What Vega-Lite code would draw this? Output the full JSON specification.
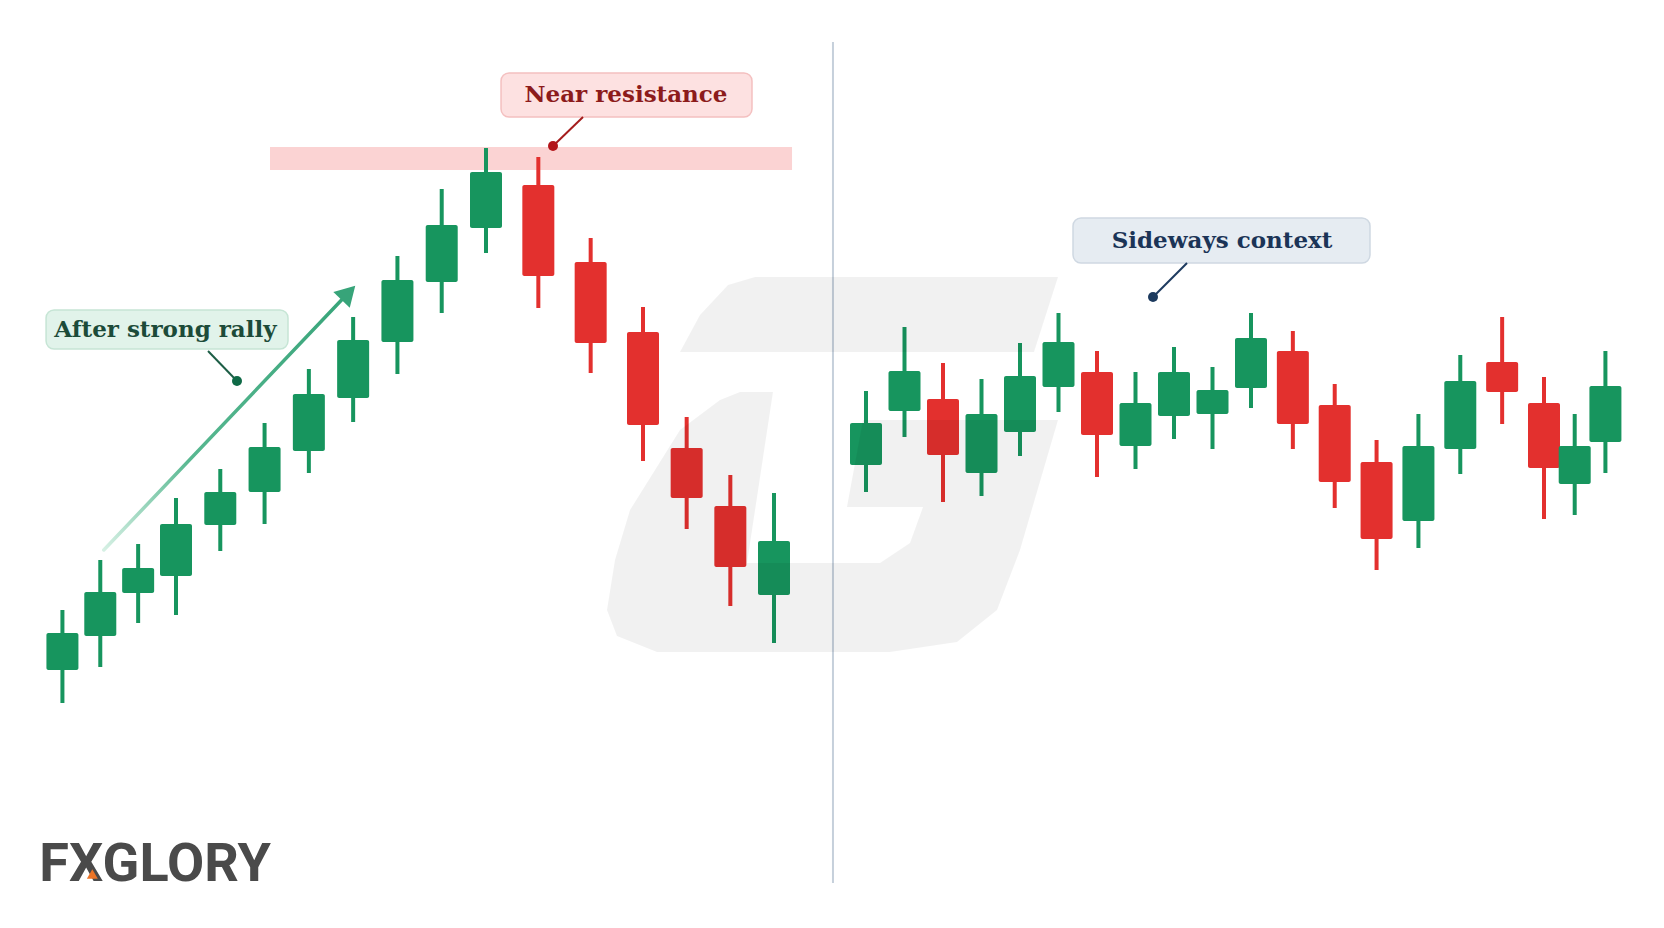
{
  "$schema": "https://vega.github.io/schema/vega-lite/v6.json",
  "width": 1664,
  "height": 928,
  "autosize": {"type": "fit", "contains": "padding"},
  "padding": 0,
  "background": "#ffffff",
  "config": {"view": {"stroke": null}},
  "datasets": {
    "candles": [
      {"t": 1, "o": 64.5, "h": 79.5, "l": 56.25, "c": 73.75},
      {"t": 2, "o": 73, "h": 92, "l": 65.25, "c": 84},
      {"t": 3, "o": 83.75, "h": 96, "l": 76.25, "c": 90},
      {"t": 4, "o": 88, "h": 107.5, "l": 78.25, "c": 101},
      {"t": 5, "o": 100.75, "h": 114.75, "l": 94.25, "c": 109},
      {"t": 6, "o": 109, "h": 126.25, "l": 101, "c": 120.25},
      {"t": 7, "o": 119.25, "h": 139.75, "l": 113.75, "c": 133.5},
      {"t": 8, "o": 132.5, "h": 152.75, "l": 126.5, "c": 147},
      {"t": 9, "o": 146.5, "h": 168, "l": 138.5, "c": 162},
      {"t": 10, "o": 161.5, "h": 184.75, "l": 153.75, "c": 175.75},
      {"t": 11, "o": 175, "h": 195, "l": 168.75, "c": 189},
      {"t": 12, "o": 185.75, "h": 192.75, "l": 155, "c": 163},
      {"t": 13, "o": 166.5, "h": 172.5, "l": 138.75, "c": 146.25},
      {"t": 14, "o": 149, "h": 155.25, "l": 116.75, "c": 125.75},
      {"t": 15, "o": 120, "h": 127.75, "l": 99.75, "c": 107.5},
      {"t": 16, "o": 105.5, "h": 113.25, "l": 80.5, "c": 90.25},
      {"t": 17, "o": 83.25, "h": 108.75, "l": 71.25, "c": 96.75},
      {"t": 18, "o": 115.75, "h": 134.25, "l": 109, "c": 126.25},
      {"t": 19, "o": 129.25, "h": 150.25, "l": 122.75, "c": 139.25},
      {"t": 20, "o": 132.25, "h": 141.25, "l": 106.5, "c": 118.25},
      {"t": 21, "o": 113.75, "h": 137.25, "l": 108, "c": 128.5},
      {"t": 22, "o": 124, "h": 146.25, "l": 118, "c": 138},
      {"t": 23, "o": 135.25, "h": 153.75, "l": 129, "c": 146.5},
      {"t": 24, "o": 139, "h": 144.25, "l": 112.75, "c": 123.25},
      {"t": 25, "o": 120.5, "h": 139, "l": 114.75, "c": 131.25},
      {"t": 26, "o": 128, "h": 145.25, "l": 122.25, "c": 139},
      {"t": 27, "o": 128.5, "h": 140.25, "l": 119.75, "c": 134.5},
      {"t": 28, "o": 135, "h": 153.75, "l": 130, "c": 147.5},
      {"t": 29, "o": 144.25, "h": 149.25, "l": 119.75, "c": 126},
      {"t": 30, "o": 130.75, "h": 136, "l": 105, "c": 111.5},
      {"t": 31, "o": 116.5, "h": 122, "l": 89.5, "c": 97.25},
      {"t": 32, "o": 101.75, "h": 128.5, "l": 95, "c": 120.5},
      {"t": 33, "o": 119.75, "h": 143.25, "l": 113.5, "c": 136.75},
      {"t": 34, "o": 141.5, "h": 152.75, "l": 126, "c": 134},
      {"t": 35, "o": 131.25, "h": 137.75, "l": 102.25, "c": 115},
      {"t": 36, "o": 111, "h": 128.5, "l": 103.25, "c": 120.5},
      {"t": 37, "o": 121.5, "h": 144.25, "l": 113.75, "c": 135.5}
    ],
    "band": [{"t0": 6.123, "t1": 17.196, "p0": 189.5, "p1": 195.25}],
    "divider": [{"t": 17.641, "p0": 11.25, "p1": 221.5}],
    "arrow": [
      {"i": 0, "t": 2.093, "p": 94.5},
      {"i": 1, "t": 7.893, "p": 158.8}
    ],
    "arrowhead": [{"t": 7.893, "p": 158.8}],
    "notes": [
      {"kind": "rally", "text": "After strong rally", "t0": 0.568, "t1": 6.529, "p0": 144.75, "p1": 154.5, "tx": 3.72, "px": 149.5, "ta": 4.723, "pa": 144.25, "tb": 5.377, "pb": 136.75},
      {"kind": "resistance", "text": "Near resistance", "t0": 11.287, "t1": 16.496, "p0": 202.75, "p1": 213.75, "tx": 13.675, "px": 208.25, "ta": 12.854, "pa": 202.75, "tb": 12.28, "pb": 195.5},
      {"kind": "sideways", "text": "Sideways context", "t0": 23.377, "t1": 30.843, "p0": 166.25, "p1": 177.5, "tx": 27.247, "px": 171.75, "ta": 26.338, "pa": 166.25, "tb": 25.455, "pb": 157.75}
    ],
    "watermark": [
      {"part": "top", "i": 0, "t": 14.847, "p": 144},
      {"part": "top", "i": 1, "t": 15.305, "p": 153.25},
      {"part": "top", "i": 2, "t": 15.947, "p": 160.75},
      {"part": "top", "i": 3, "t": 16.565, "p": 162.75},
      {"part": "top", "i": 4, "t": 22.987, "p": 162.75},
      {"part": "top", "i": 5, "t": 22.364, "p": 144},
      {"part": "low", "i": 0, "t": 16.221, "p": 134},
      {"part": "low", "i": 1, "t": 16.977, "p": 134},
      {"part": "low", "i": 2, "t": 16.382, "p": 91.25},
      {"part": "low", "i": 3, "t": 18.364, "p": 91.25},
      {"part": "low", "i": 4, "t": 19.143, "p": 96.25},
      {"part": "low", "i": 5, "t": 19.481, "p": 105.25},
      {"part": "low", "i": 6, "t": 17.793, "p": 105.25},
      {"part": "low", "i": 7, "t": 17.967, "p": 127},
      {"part": "low", "i": 8, "t": 22.987, "p": 127},
      {"part": "low", "i": 9, "t": 22.0, "p": 94.5},
      {"part": "low", "i": 10, "t": 21.403, "p": 79.5},
      {"part": "low", "i": 11, "t": 20.364, "p": 71.5},
      {"part": "low", "i": 12, "t": 18.623, "p": 69},
      {"part": "low", "i": 13, "t": 14.321, "p": 69},
      {"part": "low", "i": 14, "t": 13.503, "p": 73},
      {"part": "low", "i": 15, "t": 13.312, "p": 79.5},
      {"part": "low", "i": 16, "t": 13.465, "p": 92},
      {"part": "low", "i": 17, "t": 13.752, "p": 104.5},
      {"part": "low", "i": 18, "t": 14.847, "p": 124.5},
      {"part": "low", "i": 19, "t": 15.763, "p": 132}
    ],
    "logo": [{"t": 0.39, "p": 11.75, "text": "FXGLORY"}],
    "accent": [{"t": 1.79, "p": 13.5}]
  },
  "layer": [
    {
      "data": {"name": "band"},
      "mark": {"type": "rect", "fill": "#fbd3d3"},
      "encoding": {
        "x": {"field": "t0", "type": "quantitative", "axis": null, "scale": {"domain": [1, 4, 11, 14, 17, 18, 28, 35, 37], "range": [58, 176, 486, 643, 774, 866, 1251, 1544, 1609], "nice": false, "zero": false}},
        "x2": {"field": "t1"},
        "y": {"field": "p0", "type": "quantitative", "axis": null, "scale": {"domain": [0, 232], "nice": false, "zero": false}},
        "y2": {"field": "p1"}
      }
    },
    {
      "data": {"name": "candles"},
      "mark": {"type": "rule", "strokeWidth": 4},
      "encoding": {
        "x": {"field": "t", "type": "quantitative", "axis": null, "scale": {"domain": [1, 4, 11, 14, 17, 18, 28, 35, 37], "range": [58, 176, 486, 643, 774, 866, 1251, 1544, 1609], "nice": false, "zero": false}},
        "y": {"field": "l", "type": "quantitative", "axis": null, "scale": {"domain": [0, 232], "nice": false, "zero": false}},
        "y2": {"field": "h"},
        "color": {"condition": {"test": "datum.c >= datum.o", "value": "#17955e"}, "value": "#e3302e"}
      }
    },
    {
      "data": {"name": "candles"},
      "mark": {"type": "bar", "width": 32, "cornerRadius": 2},
      "encoding": {
        "x": {"field": "t", "type": "quantitative", "axis": null, "scale": {"domain": [1, 4, 11, 14, 17, 18, 28, 35, 37], "range": [58, 176, 486, 643, 774, 866, 1251, 1544, 1609], "nice": false, "zero": false}},
        "y": {"field": "o", "type": "quantitative", "axis": null, "scale": {"domain": [0, 232], "nice": false, "zero": false}},
        "y2": {"field": "c"},
        "color": {"condition": {"test": "datum.c >= datum.o", "value": "#17955e"}, "value": "#e3302e"}
      }
    },
    {
      "data": {"name": "divider"},
      "mark": {"type": "rule", "strokeWidth": 2, "color": "#c6d0db"},
      "encoding": {
        "x": {"field": "t", "type": "quantitative", "axis": null, "scale": {"domain": [1, 4, 11, 14, 17, 18, 28, 35, 37], "range": [58, 176, 486, 643, 774, 866, 1251, 1544, 1609], "nice": false, "zero": false}},
        "y": {"field": "p0", "type": "quantitative", "axis": null, "scale": {"domain": [0, 232], "nice": false, "zero": false}},
        "y2": {"field": "p1"}
      }
    },
    {
      "data": {"name": "arrow"},
      "mark": {"type": "line", "strokeWidth": 3.5, "strokeCap": "round", "stroke": {"gradient": "linear", "x1": 0, "y1": 1, "x2": 1, "y2": 0, "stops": [{"offset": 0, "color": "#d6f0e4"}, {"offset": 0.35, "color": "#58b891"}, {"offset": 1, "color": "#37a479"}]}},
      "encoding": {
        "x": {"field": "t", "type": "quantitative", "axis": null, "scale": {"domain": [1, 4, 11, 14, 17, 18, 28, 35, 37], "range": [58, 176, 486, 643, 774, 866, 1251, 1544, 1609], "nice": false, "zero": false}},
        "y": {"field": "p", "type": "quantitative", "axis": null, "scale": {"domain": [0, 232], "nice": false, "zero": false}},
        "order": {"field": "i"}
      }
    },
    {
      "data": {"name": "arrowhead"},
      "mark": {"type": "point", "shape": "triangle-up", "filled": true, "size": 520, "angle": 44, "color": "#37a479", "opacity": 1},
      "encoding": {
        "x": {"field": "t", "type": "quantitative", "axis": null, "scale": {"domain": [1, 4, 11, 14, 17, 18, 28, 35, 37], "range": [58, 176, 486, 643, 774, 866, 1251, 1544, 1609], "nice": false, "zero": false}},
        "y": {"field": "p", "type": "quantitative", "axis": null, "scale": {"domain": [0, 232], "nice": false, "zero": false}}
      }
    },
    {
      "data": {"name": "watermark"},
      "mark": {"type": "line", "fill": "#000000", "fillOpacity": 0.055, "strokeOpacity": 0, "strokeWidth": 0},
      "encoding": {
        "x": {"field": "t", "type": "quantitative", "axis": null, "scale": {"domain": [1, 4, 11, 14, 17, 18, 28, 35, 37], "range": [58, 176, 486, 643, 774, 866, 1251, 1544, 1609], "nice": false, "zero": false}},
        "y": {"field": "p", "type": "quantitative", "axis": null, "scale": {"domain": [0, 232], "nice": false, "zero": false}},
        "detail": {"field": "part"},
        "order": {"field": "i"}
      }
    },
    {
      "data": {"name": "notes"},
      "mark": {"type": "rect", "cornerRadius": 8, "strokeWidth": 1.5},
      "encoding": {
        "x": {"field": "t0", "type": "quantitative", "axis": null, "scale": {"domain": [1, 4, 11, 14, 17, 18, 28, 35, 37], "range": [58, 176, 486, 643, 774, 866, 1251, 1544, 1609], "nice": false, "zero": false}},
        "x2": {"field": "t1"},
        "y": {"field": "p0", "type": "quantitative", "axis": null, "scale": {"domain": [0, 232], "nice": false, "zero": false}},
        "y2": {"field": "p1"},
        "fill": {"field": "kind", "type": "nominal", "legend": null, "scale": {"domain": ["rally", "resistance", "sideways"], "range": ["#e1f3ea", "#fde1e1", "#e6ecf2"]}},
        "stroke": {"field": "kind", "type": "nominal", "legend": null, "scale": {"domain": ["rally", "resistance", "sideways"], "range": ["#c6e5d5", "#f4c0c0", "#cfd8e2"]}}
      }
    },
    {
      "data": {"name": "notes"},
      "mark": {"type": "rule", "strokeWidth": 2},
      "encoding": {
        "x": {"field": "ta", "type": "quantitative", "axis": null, "scale": {"domain": [1, 4, 11, 14, 17, 18, 28, 35, 37], "range": [58, 176, 486, 643, 774, 866, 1251, 1544, 1609], "nice": false, "zero": false}},
        "x2": {"field": "tb"},
        "y": {"field": "pa", "type": "quantitative", "axis": null, "scale": {"domain": [0, 232], "nice": false, "zero": false}},
        "y2": {"field": "pb"},
        "color": {"field": "kind", "type": "nominal", "legend": null, "scale": {"domain": ["rally", "resistance", "sideways"], "range": ["#1d5e46", "#a51d1d", "#1e3b60"]}}
      }
    },
    {
      "data": {"name": "notes"},
      "mark": {"type": "point", "shape": "circle", "filled": true, "size": 100, "opacity": 1},
      "encoding": {
        "x": {"field": "tb", "type": "quantitative", "axis": null, "scale": {"domain": [1, 4, 11, 14, 17, 18, 28, 35, 37], "range": [58, 176, 486, 643, 774, 866, 1251, 1544, 1609], "nice": false, "zero": false}},
        "y": {"field": "pb", "type": "quantitative", "axis": null, "scale": {"domain": [0, 232], "nice": false, "zero": false}},
        "color": {"field": "kind", "type": "nominal", "legend": null, "scale": {"domain": ["rally", "resistance", "sideways"], "range": ["#0f6a47", "#b3151a", "#1c3a5e"]}}
      }
    },
    {
      "data": {"name": "notes"},
      "mark": {"type": "text", "font": "DejaVu Serif", "fontWeight": "bold", "fontSize": 23, "align": "center", "baseline": "middle"},
      "encoding": {
        "x": {"field": "tx", "type": "quantitative", "axis": null, "scale": {"domain": [1, 4, 11, 14, 17, 18, 28, 35, 37], "range": [58, 176, 486, 643, 774, 866, 1251, 1544, 1609], "nice": false, "zero": false}},
        "y": {"field": "px", "type": "quantitative", "axis": null, "scale": {"domain": [0, 232], "nice": false, "zero": false}},
        "text": {"field": "text"},
        "color": {"field": "kind", "type": "nominal", "legend": null, "scale": {"domain": ["rally", "resistance", "sideways"], "range": ["#1c4b39", "#8c1b1b", "#1b3457"]}}
      }
    },
    {
      "data": {"name": "logo"},
      "mark": {"type": "text", "font": "Roboto", "fontWeight": 700, "fontSize": 54, "align": "left", "baseline": "alphabetic", "color": "#4a4a4a"},
      "encoding": {
        "x": {"field": "t", "type": "quantitative", "axis": null, "scale": {"domain": [1, 4, 11, 14, 17, 18, 28, 35, 37], "range": [58, 176, 486, 643, 774, 866, 1251, 1544, 1609], "nice": false, "zero": false}},
        "y": {"field": "p", "type": "quantitative", "axis": null, "scale": {"domain": [0, 232], "nice": false, "zero": false}},
        "text": {"field": "text"}
      }
    },
    {
      "data": {"name": "accent"},
      "mark": {"type": "point", "shape": "triangle-up", "filled": true, "size": 120, "color": "#ec7426", "opacity": 1},
      "encoding": {
        "x": {"field": "t", "type": "quantitative", "axis": null, "scale": {"domain": [1, 4, 11, 14, 17, 18, 28, 35, 37], "range": [58, 176, 486, 643, 774, 866, 1251, 1544, 1609], "nice": false, "zero": false}},
        "y": {"field": "p", "type": "quantitative", "axis": null, "scale": {"domain": [0, 232], "nice": false, "zero": false}}
      }
    }
  ],
  "resolve": {"scale": {"color": "independent", "fill": "independent", "stroke": "independent"}}
}
